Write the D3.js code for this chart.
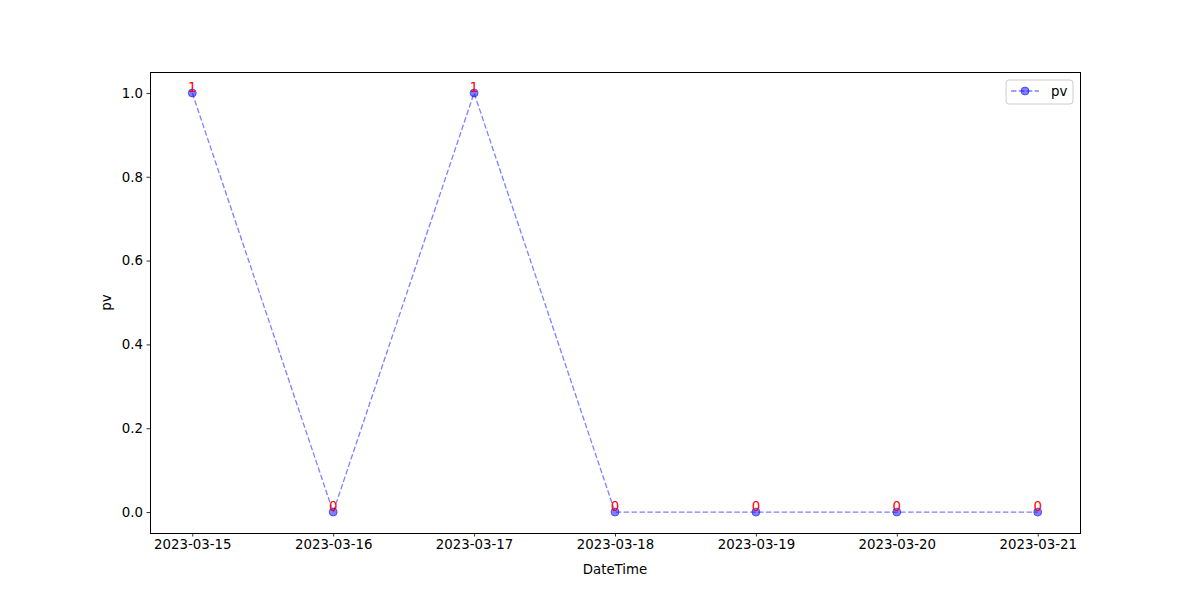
<!DOCTYPE html>
<html>
<head>
<meta charset="utf-8">
<script src="https://cdn.jsdelivr.net/npm/d3@7"></script>
<style>
  body { margin: 0; background: #fff; }
  svg { font-family: "DejaVu Sans", sans-serif; }
</style>
</head>
<body>
<div id="chart"></div>
<script>
let dates = ['2023-03-15', '2023-03-16', '2023-03-17', '2023-03-18', '2023-03-19', '2023-03-20', '2023-03-21'];
let pv = [1, 0, 1, 0, 0, 0, 0];
let yTicks = [0.0, 0.2, 0.4, 0.6, 0.8, 1.0];

let w = 1200, h = 600;
let m = {top: 72, right: 120, bottom: 67, left: 150};

let svg = d3.select("#chart").append("svg")
  .attr("width", w)
  .attr("height", h);

let parse = d3.timeParse("%Y-%m-%d");
let data = dates.map((d, i) => ({date: parse(d), v: pv[i]}));

let t0 = data[0].date, t1 = data[data.length - 1].date;
let pad = (t1 - t0) * 0.05;
let x = d3.scaleTime()
  .domain([new Date(+t0 - pad), new Date(+t1 + pad)])
  .range([m.left, w - m.right]);

let y = d3.scaleLinear()
  .domain([-0.05, 1.05])
  .range([h - m.bottom, m.top]);

let fmt = d3.timeFormat("%Y-%m-%d");

// axes
let xAxis = svg.append("g")
  .attr("transform", `translate(0,${h - m.bottom})`)
  .call(d3.axisBottom(x)
    .tickValues(data.map(d => d.date))
    .tickFormat(fmt)
    .tickSize(3.5)
    .tickPadding(3.5));

let yAxis = svg.append("g")
  .attr("transform", `translate(${m.left},0)`)
  .call(d3.axisLeft(y)
    .tickValues(yTicks)
    .tickFormat(d3.format(".1f"))
    .tickSize(3.5)
    .tickPadding(3.5));

[xAxis, yAxis].forEach(a => {
  a.select(".domain").remove();
  a.selectAll("text").attr("font-size", "13.33px").attr("fill", "#000")
    .attr("font-family", "DejaVu Sans, sans-serif");
  a.selectAll("line").attr("stroke", "#000").attr("stroke-width", 0.8);
});

// frame
svg.append("rect")
  .attr("x", m.left + 0.5)
  .attr("y", m.top + 0.5)
  .attr("width", w - m.left - m.right)
  .attr("height", h - m.top - m.bottom)
  .attr("fill", "none")
  .attr("stroke", "#000")
  .attr("stroke-width", 1);

// axis labels
svg.append("text")
  .attr("x", (m.left + w - m.right) / 2)
  .attr("y", 574)
  .attr("text-anchor", "middle")
  .attr("font-size", "13.33px")
  .text("DateTime");

svg.append("text")
  .attr("transform", `translate(111,${(m.top + h - m.bottom) / 2}) rotate(-90)`)
  .attr("text-anchor", "middle")
  .attr("font-size", "13.33px")
  .text("pv");

// line
let line = d3.line()
  .x(d => x(d.date))
  .y(d => y(d.v));

svg.append("path")
  .datum(data)
  .attr("d", line)
  .attr("fill", "none")
  .attr("stroke", "blue")
  .attr("stroke-opacity", 0.5)
  .attr("stroke-width", 1.3)
  .attr("stroke-dasharray", "5.5,2.4");

svg.append("g")
  .selectAll("circle")
  .data(data)
  .enter().append("circle")
  .attr("cx", d => x(d.date))
  .attr("cy", d => y(d.v))
  .attr("r", 4)
  .attr("fill", "blue")
  .attr("fill-opacity", 0.5)
  .attr("stroke", "blue")
  .attr("stroke-opacity", 0.5)
  .attr("stroke-width", 1);

// value labels
svg.append("g")
  .selectAll("text")
  .data(data)
  .enter().append("text")
  .attr("x", d => x(d.date))
  .attr("y", d => y(d.v) - 1)
  .attr("text-anchor", "middle")
  .attr("font-size", "13.33px")
  .attr("fill", "red")
  .text(d => d.v);

// legend
let lg = svg.append("g").attr("transform", `translate(${w - m.right - 74},${m.top + 8})`);
lg.append("rect")
  .attr("width", 67)
  .attr("height", 24)
  .attr("rx", 3)
  .attr("fill", "#fff")
  .attr("fill-opacity", 0.8)
  .attr("stroke", "#ccc")
  .attr("stroke-width", 1);
lg.append("line")
  .attr("x1", 5).attr("x2", 33)
  .attr("y1", 11).attr("y2", 11)
  .attr("stroke", "blue")
  .attr("stroke-opacity", 0.5)
  .attr("stroke-width", 1.3)
  .attr("stroke-dasharray", "5.5,2.4");
lg.append("circle")
  .attr("cx", 19).attr("cy", 11).attr("r", 4)
  .attr("fill", "blue").attr("fill-opacity", 0.5)
  .attr("stroke", "blue").attr("stroke-opacity", 0.5);
lg.append("text")
  .attr("x", 45).attr("y", 16)
  .attr("font-size", "13.33px")
  .text("pv");
</script>
</body>
</html>
